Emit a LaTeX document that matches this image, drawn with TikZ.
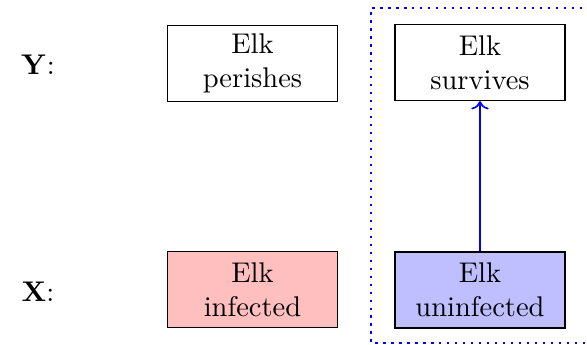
\documentclass[tikz,border=0pt]{standalone}
\usetikzlibrary{arrows.meta}
\begin{document}
\begin{tikzpicture}[x=0.351pt,y=-0.351pt,
  box/.style={draw=black, align=center, minimum width=59.7pt, minimum height=26.7pt, inner sep=0pt},
  lbl/.style={inner sep=0pt}]
\useasboundingbox (0,0) rectangle (587,345);
\node[lbl] (ly) at (38,65) {$\mathbf{Y}$:};
\node[lbl] (lx) at (38,292) {$\mathbf{X}$:};
\node[box] (per) at (252.5,63.5) {Elk\\perishes};
\node[box] (sur) at (480,62.5) {Elk\\survives};
\node[box, fill=red!25] (inf) at (252.5,289.5) {Elk\\infected};
\node[box, fill=blue!25] (uninf) at (480,290) {Elk\\uninfected};
\coordinate (c1) at (590,8);
\coordinate (c2) at (371,8);
\coordinate (c3) at (371,343);
\coordinate (c4) at (590,343);
\draw[blue, thick, dotted] (c1) -- (c2) -- (c3) -- (c4);
\draw[blue, semithick, ->] (uninf) -- (sur);
\end{tikzpicture}
\end{document}
